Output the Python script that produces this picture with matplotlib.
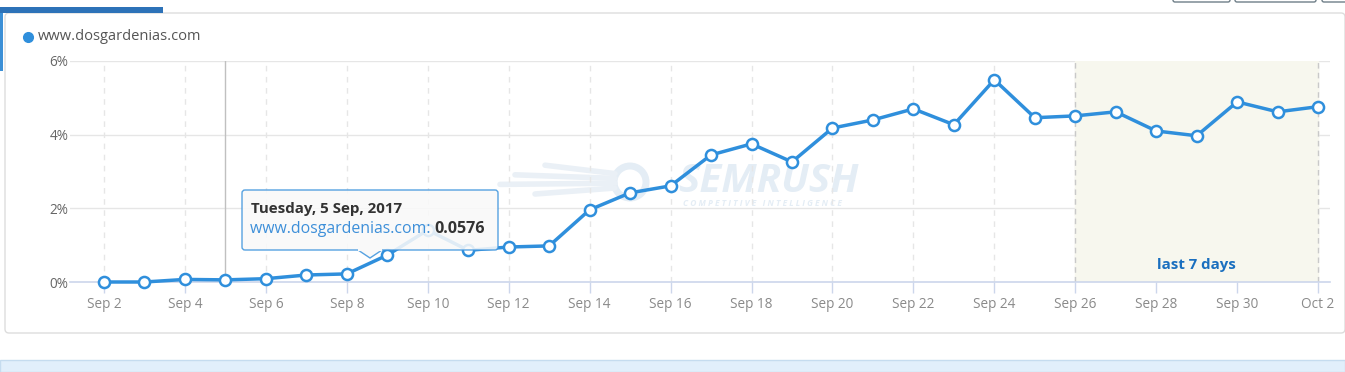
import matplotlib
matplotlib.use("Agg")
import matplotlib.pyplot as plt
import matplotlib.dates as mdates
from matplotlib.patches import FancyBboxPatch, Rectangle, Polygon, Circle
import pandas as pd

plt.rcParams['font.family'] = ['Open Sans', 'DejaVu Sans']

# daily visibility of the domain, in percent
days = pd.date_range('2017-09-02', '2017-10-02', freq='D')
share = [0.0, 0.0, 0.07, 0.0576, 0.09, 0.19, 0.22, 0.73, 1.41, 0.86, 0.95, 0.98,
         1.96, 2.42, 2.61, 3.45, 3.75, 3.26, 4.18, 4.40, 4.70, 4.27, 5.49, 4.46,
         4.51, 4.62, 4.10, 3.97, 4.89, 4.62, 4.76]
y_ticks = [0, 2, 4, 6]
y_labels = ['0%', '2%', '4%', '6%']
domain = 'www.dosgardenias.com'
last7_start = pd.Timestamp('2017-09-26')
last7_end = pd.Timestamp('2017-10-02')
hover_day = pd.Timestamp('2017-09-05')

W, H = 1345, 372
blue = '#2f8fdc'
fig = plt.figure(figsize=(W / 100, H / 100), dpi=100)

# page decorations in pixel coordinates
bg = fig.add_axes([0, 0, 1, 1])
bg.set_xlim(0, W)
bg.set_ylim(H, 0)
bg.axis('off')
bg.add_patch(FancyBboxPatch((5, 13), 1340, 320, boxstyle='round,pad=0,rounding_size=4',
                            fc='white', ec='#dddddd', lw=1))
bg.add_patch(Rectangle((0, 7), 163, 6, fc='#2d72b8', ec='none'))
bg.add_patch(Rectangle((0, 13), 3, 58, fc='#3b8fd6', ec='none'))
bg.add_patch(Rectangle((0, 360), W, 12, fc='#e1effb', ec='#c5dcef', lw=1))
for x0, x1 in [(1173, 1230), (1235, 1316), (1322, 1350)]:
    bg.add_patch(FancyBboxPatch((x0, -6), x1 - x0, 8, boxstyle='round,pad=0,rounding_size=2',
                                fc='white', ec='#6f7f88', lw=1))
bg.plot(28, 37, 'o', color=blue, ms=7)
bg.text(38, 37, domain, fontsize=10.5, color='#555555', va='center', ha='left')

# watermark
wm = '#e4edf5'
bg.text(768, 181, 'SEMRUSH', fontsize=29, fontweight='bold', style='italic',
        color=wm, ha='center', va='center', zorder=1)
bg.text(762, 203, 'C O M P E T I T I V E   I N T E L L I G E N C E', fontsize=6,
        fontweight='bold', style='italic', color=wm, ha='center', va='center', zorder=1)
bg.add_patch(Circle((630, 182), 16, fc='none', ec=wm, lw=5, zorder=1))
for dy, x0 in [(-14, 545), (-6, 515), (2, 500), (10, 535)]:
    bg.plot([x0, 615], [182 + dy * 1.2, 182 + dy * 0.6], color='#eaf0f6', lw=4,
            solid_capstyle='round', zorder=1)

# chart axes
px_per_day = 40.47
x_left, x_right = 70, 1330
y_top, y_bot = 61, 282
ax = fig.add_axes([x_left / W, (H - y_bot) / H, (x_right - x_left) / W, (y_bot - y_top) / H])
ax.patch.set_alpha(0)
t0 = days[0]
ax.set_xlim(t0 - pd.Timedelta(days=(104 - x_left) / px_per_day),
            t0 + pd.Timedelta(days=(x_right - 104) / px_per_day))
ax.set_ylim(0, 6)
for s in ['top', 'right', 'left']:
    ax.spines[s].set_visible(False)
ax.spines['bottom'].set_color('#ccd6eb')
ax.spines['bottom'].set_linewidth(1.2)

ax.set_yticks(y_ticks)
ax.set_yticklabels(y_labels)
ax.tick_params(axis='y', length=0, pad=1, labelsize=9.8, labelcolor='#666666')
for v in y_ticks[1:]:
    ax.axhline(v, color='#e6e6e6', lw=1, zorder=0)

ax.xaxis.set_major_locator(mdates.DayLocator(bymonthday=list(range(2, 31, 2))))
ax.xaxis.set_major_formatter(mdates.DateFormatter('%b %-d'))
ax.tick_params(axis='x', length=8, width=1, color='#ccd6eb', pad=3,
               labelsize=9.8, labelcolor='#8a8a8a')
for tk in ax.get_xticks():
    ax.axvline(tk, color='#e6e6e6', lw=1, ls=(0, (4, 4)), zorder=0)

ax.axvspan(last7_start, last7_end, color='#f7f7ee', zorder=0)
for d in [last7_start, last7_end]:
    ax.axvline(d, color='#c9c9c9', lw=1, ls=(0, (4, 3)), zorder=0.5)
ax.text(last7_start + (last7_end - last7_start) / 2, 0.47, 'last 7 days', color='#1a6fbf',
        fontsize=10.8, fontweight='bold', ha='center', va='center')

ax.axvline(hover_day, color='#c0c0c0', lw=1, zorder=1)

ax.plot(days, share, color=blue, lw=2.5, marker='o', ms=8, mfc='white', mec=blue,
        mew=1.8, clip_on=False, zorder=3)

# tooltip
ov = fig.add_axes([0, 0, 1, 1])
ov.set_xlim(0, W)
ov.set_ylim(H, 0)
ov.axis('off')
ov.patch.set_alpha(0)
ov.add_patch(FancyBboxPatch((242, 190), 256, 60, boxstyle='round,pad=0,rounding_size=3',
                            fc='#f9f9f9', ec='#3f95dd', lw=1, alpha=0.88, zorder=5))
ov.add_patch(Polygon([(358, 250), (370, 258), (382, 250)], closed=True, fc='#f9f9f9',
                     ec='#3f95dd', lw=1, alpha=0.88, zorder=5))
ov.plot([359, 381], [250, 250], color='#f9f9f9', lw=1.5, zorder=6)
ov.text(251, 209, 'Tuesday, 5 Sep, 2017', fontsize=10.9, fontweight='bold',
        color='#333333', ha='left', va='center', zorder=7)
t1 = ov.text(250, 229, domain + ': ', fontsize=11.4, color='#3d8fd9',
             ha='left', va='center', zorder=7)
ov.annotate('0.0576', xycoords=t1, xy=(1, 0.5), va='center', ha='left', fontsize=11.6,
            fontweight='bold', color='#333333', zorder=7)

fig.savefig('out.png', dpi=100)
